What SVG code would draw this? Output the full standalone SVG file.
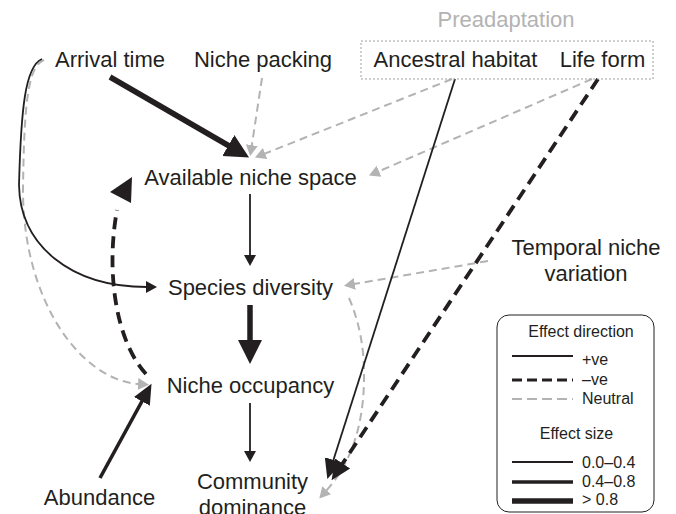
<svg xmlns="http://www.w3.org/2000/svg" width="676" height="514" viewBox="0 0 676 514">
<defs>
<style>
text{font-family:"Liberation Sans",Arial,sans-serif;fill:#231f20}
.node{font-size:22px;text-anchor:middle}
.pre{font-size:22px;text-anchor:middle;fill:#b3b3b3}
.lg{font-size:16px}
.lgc{font-size:16px;text-anchor:middle}
.s{stroke:#231f20;stroke-width:1.8;fill:none}
.m{stroke:#231f20;stroke-width:3.6;fill:none}
.l{stroke:#231f20;stroke-width:5.5;fill:none}
.md{stroke:#231f20;stroke-width:3.8;fill:none;stroke-dasharray:12 7}
.g{stroke:#b3b3b3;stroke-width:2;fill:none;stroke-dasharray:8 5}
</style>
<marker id="hXL" markerUnits="userSpaceOnUse" orient="auto" markerWidth="26" markerHeight="26" viewBox="0 -13 26 26" refX="1" refY="0"><path d="M0,-12 L24,0 L0,12 Z" fill="#231f20"/></marker>
<marker id="hM" markerUnits="userSpaceOnUse" orient="auto" markerWidth="22" markerHeight="22" viewBox="0 -11 22 22" refX="1" refY="0"><path d="M0,-9 L20,0 L0,9 Z" fill="#231f20"/></marker>
<marker id="hS" markerUnits="userSpaceOnUse" orient="auto" markerWidth="13" markerHeight="14" viewBox="0 -7 13 14" refX="1" refY="0"><path d="M0,-6 L11,0 L0,6 Z" fill="#231f20"/></marker>
<marker id="hG" markerUnits="userSpaceOnUse" orient="auto" markerWidth="13" markerHeight="14" viewBox="0 -7 13 14" refX="1" refY="0"><path d="M0,-6 L11,0 L0,6 Z" fill="#b3b3b3"/></marker>
</defs>
<rect width="676" height="514" fill="#ffffff"/>

<g id="connectors">
<!-- neutral (gray) -->
<path class="g" d="M44 60 C27 66 24 110 23 190 C23 300 80 380 139 384" marker-end="url(#hG)"/>
<path class="g" d="M262 78 L251.7 146.1" marker-end="url(#hG)"/>
<path class="g" d="M452 79 L264.2 153.9" marker-end="url(#hG)"/>
<path class="g" d="M592 79 L378.1 171.6" marker-end="url(#hG)"/>
<path class="g" d="M488 261 L353.8 284.1" marker-end="url(#hG)"/>
<path class="g" d="M349 298 Q365 335 364 380 Q363 450 326 491" marker-end="url(#hG)"/>
<!-- positive / negative -->
<path class="s" d="M42 59 C25 66 21 110 19 185 C20 245 70 287 147 287" marker-end="url(#hS)"/>
<path class="l" d="M110 77 L229.2 146" marker-end="url(#hXL)"/>
<path class="s" d="M250 194 L250 256" marker-end="url(#hS)"/>
<path class="l" d="M250 305 L250 341" marker-end="url(#hXL)"/>
<path class="s" d="M250 403 L250 452" marker-end="url(#hS)"/>
<path class="m" d="M100 478 L142.4 400.5" marker-end="url(#hM)"/>
<path class="md" d="M146 374 C115 340 106 270 117 210"/>
<path d="M110 192 L132 177 L131 203 Z" fill="#231f20"/>
<path class="s" d="M455 79 L333.1 461" marker-end="url(#hM)"/>
<path class="md" d="M598 79 L342.1 464.3" marker-end="url(#hM)"/>
</g>

<g id="preadaptation">
<text class="pre" x="506" y="27">Preadaptation</text>
<rect x="361" y="41" width="292" height="38" fill="none" stroke="#a0a0a0" stroke-width="1" stroke-dasharray="2 2"/>
</g>
<g id="arrival-time"><text class="node" x="110" y="67">Arrival time</text></g>
<g id="niche-packing"><text class="node" x="263" y="67">Niche packing</text></g>
<g id="ancestral-habitat"><text class="node" x="455.5" y="67">Ancestral habitat</text></g>
<g id="life-form"><text class="node" x="602.5" y="67">Life form</text></g>
<g id="available-niche-space"><text class="node" x="250.5" y="185">Available niche space</text></g>
<g id="temporal-niche-variation"><text class="node" x="586" y="255">Temporal niche</text><text class="node" x="586" y="281">variation</text></g>
<g id="species-diversity"><text class="node" x="250.5" y="295">Species diversity</text></g>
<g id="niche-occupancy"><text class="node" x="250.5" y="393">Niche occupancy</text></g>
<g id="community-dominance"><text class="node" x="252.5" y="489">Community</text><text class="node" x="252.5" y="515">dominance</text></g>
<g id="abundance"><text class="node" x="99.5" y="505">Abundance</text></g>

<g id="legend">
<rect x="497" y="315" width="157" height="197" rx="12" ry="12" fill="none" stroke="#231f20" stroke-width="1"/>
<text class="lgc" x="581" y="337">Effect direction</text>
<line x1="512" y1="356" x2="573" y2="356" stroke="#231f20" stroke-width="2"/>
<text class="lg" x="582" y="365">+ve</text>
<line x1="512" y1="380" x2="573" y2="380" stroke="#231f20" stroke-width="3" stroke-dasharray="10 5"/>
<text class="lg" x="582" y="385">–ve</text>
<line x1="512" y1="399" x2="573" y2="399" stroke="#b3b3b3" stroke-width="2" stroke-dasharray="10 5"/>
<text class="lg" x="582" y="404">Neutral</text>
<text class="lgc" x="576.5" y="438.5">Effect size</text>
<line x1="512" y1="462" x2="573" y2="462" stroke="#231f20" stroke-width="2"/>
<text class="lg" x="582" y="468">0.0–0.4</text>
<line x1="512" y1="482" x2="573" y2="482" stroke="#231f20" stroke-width="3.6"/>
<text class="lg" x="582" y="487">0.4–0.8</text>
<line x1="512" y1="501" x2="573" y2="501" stroke="#231f20" stroke-width="5.5"/>
<text class="lg" x="582" y="505">&gt; 0.8</text>
</g>
</svg>
